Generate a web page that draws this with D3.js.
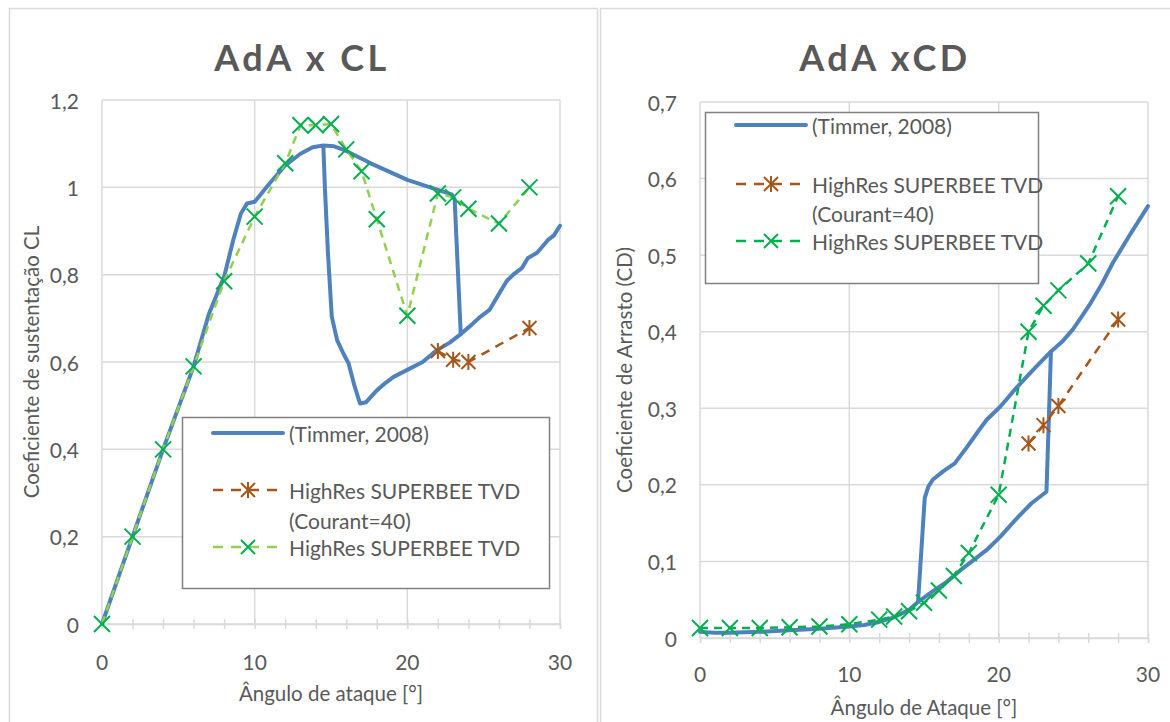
<!DOCTYPE html>
<html>
<head>
<meta charset="utf-8">
<script src="https://cdn.jsdelivr.net/npm/d3@7"></script>
<style>
  body { margin: 0; background: #fff; }
  svg { display: block; font-family: Lato, "Open Sans", sans-serif; }
</style>
</head>
<body>
<div id="chart"></div>
<script>
// simulações (HighRes SUPERBEE TVD)
const aoaSim = [0, 2, 4, 6, 8, 10, 12, 13, 14, 15, 16, 17, 18, 20, 22, 23, 24, 26, 28];
const clSim = [0, 0.2, 0.4, 0.59, 0.785, 0.933, 1.055, 1.142, 1.142, 1.145, 1.087, 1.037, 0.927, 0.706, 0.986, 0.977, 0.951, 0.917, 1.0];
const cdSim = [0.013, 0.013, 0.013, 0.014, 0.015, 0.018, 0.024, 0.028, 0.035, 0.046, 0.062, 0.081, 0.111, 0.187, 0.4, 0.434, 0.454, 0.489, 0.577];

// Courant=40
const aoaCourant = [22, 23, 24, 28];
const clCourant = [0.625, 0.605, 0.6, 0.678];
const cdCourant = [0.254, 0.278, 0.303, 0.416];

// Timmer 2008 - ramo colado
const timmerClUpAoa = [0, 2, 4, 6, 7, 8, 8.6, 9.1, 9.5, 10, 11, 12, 13, 13.8, 14.5, 15.2, 15.9, 17.6, 20, 22, 22.9, 23.1, 23.5];
const timmerClUp = [0, 0.2, 0.4, 0.59, 0.71, 0.795, 0.88, 0.94, 0.963, 0.967, 1.01, 1.05, 1.077, 1.092, 1.096, 1.094, 1.085, 1.055, 1.017, 0.994, 0.984, 0.972, 0.664];
// Timmer 2008 - ramo descolado
const timmerClDownAoa = [14.5, 14.6, 14.8, 15.05, 15.4, 15.8, 16.15, 16.5, 16.9, 17.3, 18.0, 18.6, 19.1, 20.0, 21.0, 21.9, 22.8, 23.5, 24.2, 24.8, 25.4, 25.9, 26.5, 27.0, 27.5, 27.9, 28.5, 29.2, 29.6, 30.0];
const timmerClDown = [1.094, 1.0, 0.85, 0.704, 0.65, 0.62, 0.597, 0.55, 0.505, 0.508, 0.535, 0.553, 0.566, 0.582, 0.6, 0.626, 0.645, 0.664, 0.685, 0.704, 0.72, 0.75, 0.785, 0.802, 0.815, 0.838, 0.85, 0.879, 0.89, 0.912];

const timmerCdUpAoa = [0, 1, 2, 4, 6, 8, 10, 11, 12, 13, 14, 14.6, 15.5, 16.5, 17.6, 19.2, 20.1, 21.2, 22.2, 23.2, 23.35, 23.5];
const timmerCdUp = [0.008, 0.007, 0.007, 0.008, 0.01, 0.012, 0.015, 0.017, 0.021, 0.027, 0.037, 0.047, 0.06, 0.073, 0.091, 0.115, 0.132, 0.156, 0.176, 0.191, 0.28, 0.374];
const timmerCdDownAoa = [14.6, 15.05, 15.3, 15.6, 16.3, 17.06, 17.9, 18.7, 19.2, 20.1, 21.2, 22.4, 23.5, 24.3, 24.97, 25.5, 26.08, 26.9, 27.65, 28.8, 30];
const timmerCdDown = [0.047, 0.183, 0.198, 0.207, 0.218, 0.228, 0.25, 0.272, 0.285, 0.302, 0.327, 0.352, 0.374, 0.388, 0.403, 0.418, 0.435, 0.462, 0.49, 0.527, 0.564];

const xTicks = [0, 10, 20, 30];
const clTicks = [0, 0.2, 0.4, 0.6, 0.8, 1, 1.2];
const cdTicks = [0, 0.1, 0.2, 0.3, 0.4, 0.5, 0.6, 0.7];
const legendLabels = ["(Timmer, 2008)", "HighRes SUPERBEE TVD", "(Courant=40)", "HighRes SUPERBEE TVD"];

const W = 1170, H = 722;
const textColor = "#595959";
const gridColor = "#D9D9D9";
const blue = "#4F81BD";
const brown = "#A5561B";
const green = "#00B050";
const lightGreen = "#92D050";

const svg = d3.select("#chart").append("svg")
    .attr("width", W)
    .attr("height", H);

const fmt = v => String(v).replace(".", ",");
const zip = (a, b) => a.map((d, i) => [d, b[i]]);

function xMark(s) {
  return `M${-s},${-s}L${s},${s}M${-s},${s}L${s},${-s}`;
}
function starMark(s) {
  return `M${-s},${-s}L${s},${s}M${-s},${s}L${s},${-s}M0,${-s - 1}L0,${s + 1}`;
}

function drawChart(cfg) {
  const g = svg.append("g");

  // moldura
  g.append("rect")
    .attr("x", cfg.frame[0] + 0.5).attr("y", 8.5)
    .attr("width", cfg.frame[1] - cfg.frame[0]).attr("height", H)
    .attr("fill", "#fff").attr("stroke", gridColor).attr("stroke-width", 1.5);

  const x = d3.scaleLinear().domain([0, 30]).range(cfg.xRange);
  const y = d3.scaleLinear().domain([0, cfg.yTicks[cfg.yTicks.length - 1]]).range(cfg.yRange);

  // grade
  g.append("g").selectAll("line").data(cfg.yTicks).join("line")
    .attr("x1", x(0)).attr("x2", x(30))
    .attr("y1", d => y(d)).attr("y2", d => y(d))
    .attr("stroke", gridColor).attr("stroke-width", 1.5);
  g.append("g").selectAll("line").data(xTicks).join("line")
    .attr("x1", d => x(d)).attr("x2", d => x(d))
    .attr("y1", y.range()[0]).attr("y2", y.range()[1])
    .attr("stroke", gridColor).attr("stroke-width", 1.5);

  // eixo x com marcas menores
  const xAxis = g.append("g")
    .attr("transform", `translate(0,${y(0)})`)
    .call(d3.axisBottom(x).tickValues(d3.range(0, 31, 2)).tickSize(5).tickFormat(""));
  xAxis.select(".domain").attr("stroke", gridColor).attr("stroke-width", 1.5);
  xAxis.selectAll(".tick line").attr("stroke", gridColor).attr("stroke-width", 1.5).attr("y1", -5);

  g.append("g").selectAll("text").data(xTicks).join("text")
    .attr("x", d => x(d)).attr("y", y(0) + cfg.xLabelDy)
    .attr("text-anchor", "middle").attr("dominant-baseline", "central")
    .attr("font-size", 21).attr("fill", textColor)
    .text(d => d);

  g.append("g").selectAll("text").data(cfg.yTicks).join("text")
    .attr("x", x(0) - 23).attr("y", d => y(d))
    .attr("text-anchor", "end").attr("dominant-baseline", "central")
    .attr("font-size", 21).attr("fill", textColor)
    .text(fmt);

  // títulos
  g.append("text")
    .attr("x", cfg.titleX).attr("y", 57)
    .attr("text-anchor", "middle").attr("dominant-baseline", "central")
    .attr("font-size", 36).attr("font-weight", "bold")
    .attr("letter-spacing", 3.5).attr("fill", textColor)
    .text(cfg.title);

  g.append("text")
    .attr("x", (cfg.xRange[0] + cfg.xRange[1]) / 2).attr("y", y(0) + cfg.xTitleDy)
    .attr("text-anchor", "middle").attr("dominant-baseline", "central")
    .attr("font-size", 20.5).attr("fill", textColor)
    .text(cfg.xTitle);

  g.append("text")
    .attr("transform", `translate(${cfg.yTitleX},${(cfg.yRange[0] + cfg.yRange[1]) / 2}) rotate(-90)`)
    .attr("text-anchor", "middle").attr("dominant-baseline", "central")
    .attr("font-size", 20.5).attr("fill", textColor)
    .text(cfg.yTitle);

  const line = d3.line().x(d => x(d[0])).y(d => y(d[1]));

  // Timmer
  cfg.timmer.forEach(pts => {
    g.append("path").datum(pts)
      .attr("d", line).attr("fill", "none")
      .attr("stroke", blue).attr("stroke-width", 4)
      .attr("stroke-linejoin", "round").attr("stroke-linecap", "round");
  });

  // Courant=40
  g.append("path").datum(cfg.courant)
    .attr("d", line).attr("fill", "none")
    .attr("stroke", brown).attr("stroke-width", 2.5).attr("stroke-dasharray", "9,7");
  g.append("g").selectAll("path").data(cfg.courant).join("path")
    .attr("transform", d => `translate(${x(d[0])},${y(d[1])})`)
    .attr("d", starMark(7)).attr("fill", "none")
    .attr("stroke", brown).attr("stroke-width", 2);

  // simulação
  g.append("path").datum(cfg.sim)
    .attr("d", line).attr("fill", "none")
    .attr("stroke", cfg.simLine).attr("stroke-width", 2.5).attr("stroke-dasharray", "8,6");
  g.append("g").selectAll("path").data(cfg.sim).join("path")
    .attr("transform", d => `translate(${x(d[0])},${y(d[1])})`)
    .attr("d", xMark(8)).attr("fill", "none")
    .attr("stroke", green).attr("stroke-width", 2);

  // legenda
  const L = cfg.legend;
  const lg = g.append("g");
  lg.append("rect")
    .attr("x", L.x + 0.5).attr("y", L.y + 0.5)
    .attr("width", L.w).attr("height", L.h)
    .attr("fill", "#fff").attr("stroke", "#808080").attr("stroke-width", 1.5);

  const lx0 = L.x + 31, lx1 = L.x + 101, lmid = L.x + 66;
  lg.append("line")
    .attr("x1", lx0).attr("x2", lx1).attr("y1", L.rows[0]).attr("y2", L.rows[0])
    .attr("stroke", blue).attr("stroke-width", 4).attr("stroke-linecap", "round");
  lg.append("line")
    .attr("x1", lx0).attr("x2", lx1).attr("y1", L.rows[1]).attr("y2", L.rows[1])
    .attr("stroke", brown).attr("stroke-width", 2.5).attr("stroke-dasharray", "10,8");
  lg.append("path").attr("transform", `translate(${lmid},${L.rows[1]})`)
    .attr("d", starMark(7)).attr("fill", "none").attr("stroke", brown).attr("stroke-width", 2);
  lg.append("line")
    .attr("x1", lx0).attr("x2", lx1).attr("y1", L.rows[3]).attr("y2", L.rows[3])
    .attr("stroke", cfg.simLine).attr("stroke-width", 2.5).attr("stroke-dasharray", "10,8");
  lg.append("path").attr("transform", `translate(${lmid},${L.rows[3]})`)
    .attr("d", xMark(7)).attr("fill", "none").attr("stroke", green).attr("stroke-width", 2);

  lg.selectAll("text").data(legendLabels).join("text")
    .attr("x", L.x + 107).attr("y", (d, i) => L.rows[i])
    .attr("dominant-baseline", "central")
    .attr("font-size", 21).attr("fill", textColor)
    .text(d => d);
}

drawChart({
  frame: [9, 597],
  xRange: [102, 560],
  yRange: [624, 100],
  yTicks: clTicks,
  title: "AdA x CL",
  titleX: 302,
  xTitle: "Ângulo de ataque [°]",
  yTitle: "Coeficiente de sustentação CL",
  yTitleX: 31,
  xLabelDy: 37,
  xTitleDy: 69,
  timmer: [zip(timmerClUpAoa, timmerClUp), zip(timmerClDownAoa, timmerClDown)],
  courant: zip(aoaCourant, clCourant),
  sim: zip(aoaSim, clSim),
  simLine: lightGreen,
  legend: { x: 182, y: 417, w: 367, h: 171, rows: [433, 490, 520, 547] }
});

drawChart({
  frame: [600, 1180],
  xRange: [700, 1148],
  yRange: [638, 102],
  yTicks: cdTicks,
  title: "AdA xCD",
  titleX: 885,
  xTitle: "Ângulo de Ataque [°]",
  yTitle: "Coeficiente de Arrasto (CD)",
  yTitleX: 624,
  xLabelDy: 35,
  xTitleDy: 69,
  timmer: [zip(timmerCdUpAoa, timmerCdUp), zip(timmerCdDownAoa, timmerCdDown)],
  courant: zip(aoaCourant, cdCourant),
  sim: zip(aoaSim, cdSim),
  simLine: green,
  legend: { x: 705, y: 112, w: 333, h: 171, rows: [125, 184, 213, 241] }
});
</script>
</body>
</html>
